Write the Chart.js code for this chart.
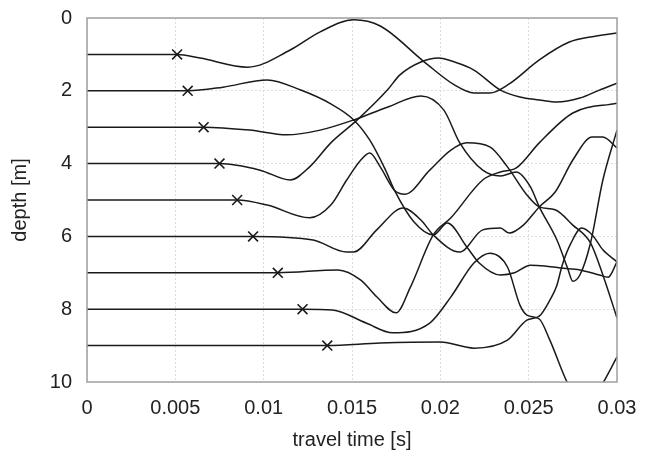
<!DOCTYPE html>
<html>
<head>
<meta charset="utf-8">
<script src="https://cdn.jsdelivr.net/npm/chart.js@4"></script>
<style>
  html, body { margin: 0; padding: 0; background: #fff; }
  #wrap { width: 645px; height: 458px; }
</style>
</head>
<body>
<div id="wrap"><canvas id="traveltimeChart"></canvas></div>
<script>
// travel time [s], depth [m] pairs, one array per receiver
var trace1 = [[0,1],[0.004,1],[0.0051,1],[0.0064,1.1],[0.0091,1.35],[0.0115,0.88],[0.0132,0.38],[0.0151,0.05],[0.0166,0.22],[0.0191,1.21],[0.0208,1.84],[0.0219,2.06],[0.0228,2.06],[0.0239,1.81],[0.0256,1.15],[0.0273,0.66],[0.0285,0.52],[0.03,0.41]];
var trace2 = [[0,2],[0.0045,2],[0.0057,2],[0.0077,1.9],[0.0102,1.7],[0.0121,1.98],[0.0138,2.36],[0.0151,2.8],[0.016,3.35],[0.0169,4.18],[0.0174,4.73],[0.0185,5.6],[0.0196,5.96],[0.0204,5.63],[0.0215,6.29],[0.0222,6.73],[0.0234,7.06],[0.0242,7.0],[0.0251,6.79],[0.0259,6.81],[0.0268,6.87],[0.0279,6.92],[0.029,7.06],[0.0295,7.12],[0.03,6.7]];
var trace3 = [[0,3],[0.005,3],[0.0066,3],[0.0092,3.08],[0.0113,3.21],[0.0132,3.08],[0.0151,2.8],[0.017,2.45],[0.0189,2.14],[0.0202,2.53],[0.0211,3.43],[0.0224,4.18],[0.0234,4.34],[0.0243,4.23],[0.0251,4.64],[0.0256,5.19],[0.0266,6.1],[0.0272,6.87],[0.0275,7.23],[0.0279,7.06],[0.0285,6.18],[0.0292,4.45],[0.03,3.08]];
var trace4 = [[0,4],[0.006,4],[0.0075,4],[0.0098,4.18],[0.0115,4.45],[0.0126,4.09],[0.0138,3.43],[0.0153,2.8],[0.017,1.98],[0.0177,1.57],[0.0189,1.21],[0.0199,1.1],[0.0208,1.21],[0.0219,1.43],[0.0234,1.98],[0.0245,2.17],[0.0256,2.25],[0.0266,2.31],[0.0279,2.2],[0.029,1.98],[0.03,1.79]];
var trace5 = [[0,5],[0.007,5],[0.0085,5],[0.0102,5.14],[0.0126,5.49],[0.0138,5.14],[0.0147,4.45],[0.0155,3.9],[0.016,3.71],[0.0166,4.09],[0.0174,4.73],[0.018,4.84],[0.0194,4.18],[0.0206,3.63],[0.0215,3.43],[0.0228,3.54],[0.0238,4.09],[0.0249,4.86],[0.0256,5.19],[0.0265,5.27],[0.0275,5.69],[0.0285,6.18],[0.0292,7.06],[0.03,8.24]];
var trace6 = [[0,6],[0.008,6],[0.0094,6],[0.0128,6.1],[0.0147,6.43],[0.0151,6.43],[0.0164,5.82],[0.0179,5.22],[0.0189,5.55],[0.0196,5.96],[0.0211,6.43],[0.0224,5.82],[0.0234,5.77],[0.0239,5.91],[0.0247,5.69],[0.0256,5.19],[0.0265,4.78],[0.0275,3.9],[0.0286,3.27],[0.0292,3.27],[0.03,3.57]];
var trace7 = [[0,7],[0.009,7],[0.0108,7],[0.0142,6.92],[0.0155,7.2],[0.0164,7.66],[0.0175,8.1],[0.0183,7.4],[0.0196,5.96],[0.0206,5.49],[0.0224,4.45],[0.0234,4.23],[0.0243,4.12],[0.0256,3.43],[0.0275,2.61],[0.03,2.34]];
var trace8 = [[0,8],[0.011,8],[0.0122,8],[0.0139,8.02],[0.0158,8.38],[0.0173,8.65],[0.0194,8.38],[0.0206,7.66],[0.0219,6.73],[0.0228,6.46],[0.0238,6.84],[0.0245,7.88],[0.0249,8.16],[0.0256,8.27],[0.0262,8.85],[0.0272,10.03],[0.0282,10.77],[0.0292,10.03],[0.03,9.31]];
var trace9 = [[0,9],[0.012,9],[0.0136,9],[0.0166,8.93],[0.02,8.9],[0.0219,9.07],[0.0238,8.85],[0.0249,8.3],[0.0256,8.19],[0.0262,7.75],[0.0266,7.34],[0.0269,6.79],[0.0274,6.18],[0.028,5.77],[0.0286,5.96],[0.0292,6.37],[0.03,6.7]];

// first arrival picks (the x marks)
var pickTimes = [0.0051, 0.0057, 0.0066, 0.0075, 0.0085, 0.0094, 0.0108, 0.0122, 0.0136];
var pickDepths = [1, 2, 3, 4, 5, 6, 7, 8, 9];

var xTicks = [0, 0.005, 0.01, 0.015, 0.02, 0.025, 0.03];
var yTicks = [0, 2, 4, 6, 8, 10];

var traces = [trace1, trace2, trace3, trace4, trace5, trace6, trace7, trace8, trace9];
var lineColor = '#1a1a1a';
var fontFamily = "'Liberation Sans', Arial, sans-serif";

var datasets = traces.map(function (tr, i) {
    return {
        label: 'receiver ' + (i + 1),
        data: tr.map(function (p) { return { x: p[0], y: p[1] }; }),
        showLine: true,
        borderColor: lineColor,
        borderWidth: 1.5,
        pointRadius: 0,
        cubicInterpolationMode: 'monotone',
        fill: false
    };
});

datasets.push({
    label: 'picks',
    data: pickTimes.map(function (t, i) { return { x: t, y: pickDepths[i] }; }),
    showLine: false,
    pointStyle: 'crossRot',
    pointRadius: 7,
    borderWidth: 1.6,
    borderColor: lineColor,
    backgroundColor: lineColor
});

// draw the full frame around the plot area
var framePlugin = {
    id: 'frame',
    afterDraw: function (chart) {
        var a = chart.chartArea;
        var ctx = chart.ctx;
        ctx.save();
        ctx.strokeStyle = '#a0a0a0';
        ctx.lineWidth = 1.5;
        ctx.strokeRect(a.left, a.top, a.right - a.left, a.bottom - a.top);
        ctx.restore();
    }
};

// no extra room for overhanging tick labels, the layout padding does it
function noLabelPadding(s) {
    s.paddingTop = 0;
    s.paddingBottom = 0;
    s.paddingLeft = 0;
    s.paddingRight = 0;
}

new Chart(document.getElementById('traveltimeChart').getContext('2d'), {
    type: 'scatter',
    data: { datasets: datasets },
    options: {
        responsive: true,
        maintainAspectRatio: false,
        animation: false,
        layout: { padding: { top: 18, right: 28, left: 0, bottom: 0 } },
        plugins: { legend: { display: false }, tooltip: { enabled: false } },
        scales: {
            x: {
                type: 'linear',
                min: 0,
                max: 0.03,
                afterBuildTicks: function (s) { s.ticks = xTicks.map(function (v) { return { value: v }; }); },
                afterFit: function (s) { s.height = 76; noLabelPadding(s); },
                ticks: {
                    padding: 14,
                    color: '#222',
                    font: { family: fontFamily, size: 20 },
                    callback: function (v) { return String(v); }
                },
                grid: { color: '#dcdcdc', drawTicks: false },
                border: { display: false, dash: [2, 2] },
                title: {
                    display: true,
                    text: 'travel time [s]',
                    color: '#222',
                    font: { family: fontFamily, size: 20 },
                    padding: { top: 0, bottom: 6 }
                }
            },
            y: {
                type: 'linear',
                reverse: true,
                min: 0,
                max: 10,
                afterBuildTicks: function (s) { s.ticks = yTicks.map(function (v) { return { value: v }; }); },
                afterFit: function (s) { s.width = 87; noLabelPadding(s); },
                ticks: {
                    padding: 15,
                    color: '#222',
                    font: { family: fontFamily, size: 20 },
                    callback: function (v) { return String(v); }
                },
                grid: { color: '#dcdcdc', drawTicks: false },
                border: { display: false, dash: [2, 2] },
                title: {
                    display: true,
                    text: 'depth [m]',
                    color: '#222',
                    font: { family: fontFamily, size: 20 },
                    padding: { top: 8, bottom: 0 }
                }
            }
        }
    },
    plugins: [framePlugin]
});
</script>
</body>
</html>
